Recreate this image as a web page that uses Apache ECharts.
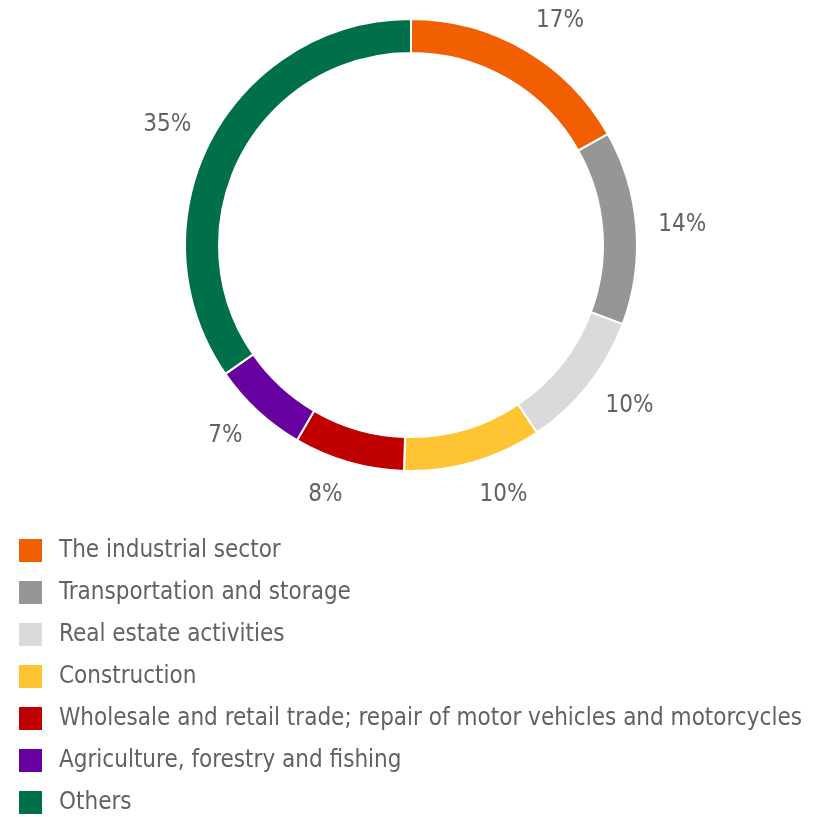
<!DOCTYPE html>
<html>
<head>
<meta charset="utf-8">
<script src="https://cdn.jsdelivr.net/npm/echarts@6/dist/echarts.min.js"></script>
<style>
html,body{margin:0;padding:0;background:#fff;}
#chart{width:834px;height:817px;}
</style>
</head>
<body>
<div id="chart"></div>
<script>
// Sector shares (%)
const categories = [
  'The industrial sector',
  'Transportation and storage',
  'Real estate activities',
  'Construction',
  'Wholesale and retail trade; repair of motor vehicles and motorcycles',
  'Agriculture, forestry and fishing',
  'Others'
];
const shares = [17, 14, 10, 10, 8, 7, 35];
const colors = ['#F25F00', '#969696', '#DADADA', '#FFC433', '#C00000', '#66009F', '#00704A'];

const textColor = '#626262';
const fontFamily = '"DejaVu Sans Condensed", "Liberation Sans Narrow", Roboto, sans-serif';

// ring geometry
const cx = 411, cy = 245;
const innerR = 192, outerR = 226, labelR = 248;

// mid angle (radians, clockwise from 12 o'clock) of each slice
const total = shares.reduce((a, b) => a + b, 0);
const midAngles = [];
let acc = 0;
shares.forEach(v => { midAngles.push((acc + v / 2) / total * 2 * Math.PI); acc += v; });

const chart = echarts.init(document.getElementById('chart'));
chart.setOption({
  animation: false,
  color: colors,
  legend: {
    orient: 'vertical',
    left: 19,
    top: 538,
    height: 300,
    padding: 0,
    itemWidth: 23,
    itemHeight: 23,
    itemGap: 17,
    icon: 'rect',
    itemStyle: { borderWidth: 0 },
    textStyle: { fontSize: 24, lineHeight: 23, color: textColor, fontFamily: fontFamily, padding: [2, 0, 0, 12] },
    data: categories
  },
  series: [{
    type: 'pie',
    center: [cx, cy],
    radius: [innerR, outerR],
    startAngle: 90,
    clockwise: true,
    avoidLabelOverlap: false,
    itemStyle: { borderColor: '#fff', borderWidth: 2 },
    label: {
      show: true,
      position: 'outside',
      formatter: '{c}%',
      fontSize: 24,
      color: textColor,
      fontFamily: fontFamily
    },
    labelLine: { show: false },
    // each label sits just outside the ring, pushed away from it on its side
    labelLayout: function (p) {
      const a = midAngles[p.dataIndex];
      const s = Math.sin(a), c = Math.cos(a);
      const h = p.labelRect.height;
      return {
        x: cx + labelR * s,
        y: cy - labelR * c - (h / 2) * c,
        align: s >= 0 ? 'left' : 'right',
        verticalAlign: 'middle'
      };
    },
    emphasis: { disabled: true },
    data: categories.map((name, i) => ({ name: name, value: shares[i] }))
  }]
});
</script>
</body>
</html>
